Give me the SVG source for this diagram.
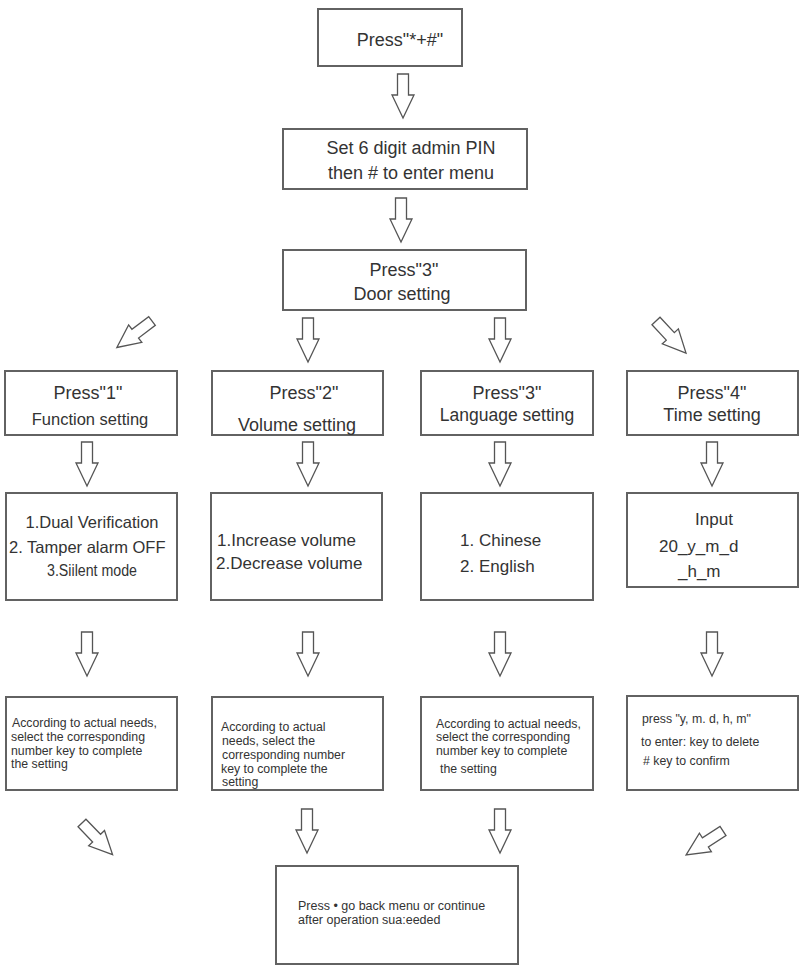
<svg xmlns="http://www.w3.org/2000/svg" xmlns:xlink="http://www.w3.org/1999/xlink" width="806" height="975" viewBox="0 0 806 975">
<style>
.box{fill:#fff;stroke:#626262;stroke-width:2}
.arr{fill:#fff;stroke:#555;stroke-width:1.3;stroke-linejoin:miter}
.t{font-family:"Liberation Sans",Arial,sans-serif;fill:#333}
.h{font-size:18px}
.m{font-size:17px}
.c{text-anchor:middle}
.s{font-size:12.3px}
</style>
<defs>
<path id="ar" d="M-5.5,0 H5.5 V21 H11 L0,44 L-11,21 H-5.5 Z"/>
</defs>
<rect width="806" height="975" fill="#fff"/>

<g id="connectors">
<use xlink:href="#ar" class="arr" transform="translate(403,74)"/>
<use xlink:href="#ar" class="arr" transform="translate(401,198)"/>
<use xlink:href="#ar" class="arr" transform="translate(152,321) rotate(53)"/>
<use xlink:href="#ar" class="arr" transform="translate(308,318)"/>
<use xlink:href="#ar" class="arr" transform="translate(500,318)"/>
<use xlink:href="#ar" class="arr" transform="translate(656,321) rotate(-43)"/>
<use xlink:href="#ar" class="arr" transform="translate(87,442)"/>
<use xlink:href="#ar" class="arr" transform="translate(308,442)"/>
<use xlink:href="#ar" class="arr" transform="translate(500,442)"/>
<use xlink:href="#ar" class="arr" transform="translate(712,442)"/>
<use xlink:href="#ar" class="arr" transform="translate(87,632)"/>
<use xlink:href="#ar" class="arr" transform="translate(308,632)"/>
<use xlink:href="#ar" class="arr" transform="translate(500,632)"/>
<use xlink:href="#ar" class="arr" transform="translate(712,632)"/>
<use xlink:href="#ar" class="arr" transform="translate(307,809)"/>
<use xlink:href="#ar" class="arr" transform="translate(500,809)"/>
<use xlink:href="#ar" class="arr" transform="translate(82,823) rotate(-44)"/>
<use xlink:href="#ar" class="arr" transform="translate(723,831) rotate(57)"/>
</g>

<g id="start">
<rect class="box" x="318" y="9" width="144" height="57"/>
<text class="t h c" x="400" y="46">Press"*+#"</text>
</g>
<g id="pin">
<rect class="box" x="283" y="129" width="244" height="60"/>
<text class="t h c" x="411" y="154">Set 6 digit admin PIN</text>
<text class="t h c" x="411" y="179">then # to enter menu</text>
</g>
<g id="door">
<rect class="box" x="283" y="250" width="243" height="60"/>
<text class="t h c" x="404" y="276">Press"3"</text>
<text class="t h c" x="402" y="300">Door setting</text>
</g>

<g id="func">
<rect class="box" x="5" y="371" width="172" height="64"/>
<text class="t h c" x="88" y="399">Press"1"</text>
<text class="t c" style="font-size:16.5px" x="90" y="425">Function setting</text>
</g>
<g id="volume">
<rect class="box" x="212" y="371" width="171" height="64"/>
<text class="t h c" x="304" y="399">Press"2"</text>
<text class="t h c" x="297" y="431">Volume setting</text>
</g>
<g id="language">
<rect class="box" x="421" y="371" width="172" height="64"/>
<text class="t h c" x="507" y="399">Press"3"</text>
<text class="t c" style="font-size:17.5px" x="507" y="421">Language setting</text>
</g>
<g id="time">
<rect class="box" x="627" y="371" width="171" height="64"/>
<text class="t h c" x="712" y="399">Press"4"</text>
<text class="t h c" x="712" y="421">Time setting</text>
</g>

<g id="func-options">
<rect class="box" x="6" y="493" width="171" height="107"/>
<text class="t c" style="font-size:16.5px" x="92" y="528">1.Dual Verification</text>
<text class="t" style="font-size:16.5px" x="9" y="553">2. Tamper alarm OFF</text>
<text class="t" style="font-size:16px" x="47" y="576" textLength="90" lengthAdjust="spacingAndGlyphs">3.Siilent mode</text>
</g>
<g id="volume-options">
<rect class="box" x="211" y="493" width="171" height="107"/>
<text class="t m" x="217" y="546">1.Increase volume</text>
<text class="t m" x="216" y="569">2.Decrease volume</text>
</g>
<g id="language-options">
<rect class="box" x="421" y="493" width="172" height="107"/>
<text class="t m" x="460" y="546">1. Chinese</text>
<text class="t m" x="460" y="572">2. English</text>
</g>
<g id="time-input">
<rect class="box" x="627" y="493" width="171" height="94"/>
<text class="t m c" x="714" y="525">Input</text>
<text class="t m" x="659" y="552">20_y_m_d</text>
<text class="t m" x="678" y="577">_h_m</text>
</g>

<g id="func-note">
<rect class="box" x="6" y="697" width="171" height="93"/>
<text class="t s" x="12" y="727">According to actual needs,</text>
<text class="t s" x="11" y="741">select the corresponding</text>
<text class="t s" x="11" y="755">number key to complete</text>
<text class="t s" x="11" y="768">the setting</text>
</g>
<g id="volume-note">
<rect class="box" x="212" y="697" width="171" height="93"/>
<text class="t s" x="221" y="731">According to actual</text>
<text class="t s" x="222" y="745">needs, select the</text>
<text class="t s" x="222" y="759">corresponding number</text>
<text class="t s" x="221" y="773">key to complete the</text>
<text class="t s" x="222" y="786">setting</text>
</g>
<g id="language-note">
<rect class="box" x="421" y="697" width="172" height="93"/>
<text class="t s" x="436" y="728">According to actual needs,</text>
<text class="t s" x="436" y="741">select the corresponding</text>
<text class="t s" x="436" y="755">number key to complete</text>
<text class="t s" x="440" y="773">the setting</text>
</g>
<g id="time-note">
<rect class="box" x="627" y="696" width="171" height="94"/>
<text class="t s" x="642" y="723">press "y, m. d, h, m"</text>
<text class="t s" x="641" y="746">to enter: key to delete</text>
<text class="t s" x="643" y="765"># key to confirm</text>
</g>

<g id="finish">
<rect class="box" x="276" y="866" width="242" height="98"/>
<text class="t" style="font-size:12.5px" x="298" y="910">Press • go back menu or continue</text>
<text class="t" style="font-size:12.5px" x="298" y="924">after operation sua:eeded</text>
</g>
</svg>
